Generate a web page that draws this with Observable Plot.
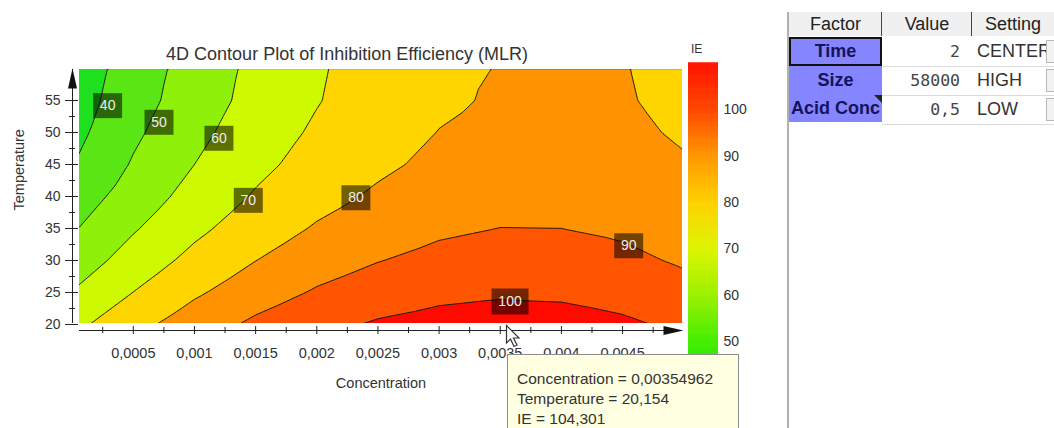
<!DOCTYPE html>
<html>
<head>
<meta charset="utf-8">
<script src="https://cdn.jsdelivr.net/npm/d3@7"></script>
<script src="https://cdn.jsdelivr.net/npm/@observablehq/plot@0.6"></script>
<style>
  html, body { margin:0; padding:0; background:#fff; }
  body { position:relative; width:1054px; height:428px; overflow:hidden; font-family:"Liberation Sans", Arial, sans-serif; color:#333; }
  .abs { position:absolute; }
  #title { left:0; top:45px; width:694px; text-align:center; font-size:18px; line-height:18px; color:#333; white-space:nowrap; }
  #ie { left:691px; top:43px; font-size:12px; line-height:12px; color:#333; }
  #chart { left:0; top:0; }
  #bar { left:688px; top:63px; }
  #sep { left:787px; top:12px; width:2px; height:420px; background:#b0b0b0; }
  .hdr { background:#f0f0f0; height:24px; top:12px; font-size:18px; line-height:24px; text-align:center; color:#222; box-sizing:border-box; }
  .vline { background:#444; width:1px; top:12px; height:24px; }
  .fac { background:#8585ff; color:#14145a; font-weight:bold; font-size:18px; text-align:center; overflow:hidden; white-space:nowrap; box-sizing:border-box; }
  .val { font-family:"DejaVu Sans Mono", monospace; font-size:16.5px; color:#444; text-align:right; box-sizing:border-box; padding-right:12px; }
  .set { font-size:18px; color:#333; padding-left:5px; box-sizing:border-box; white-space:nowrap; }
  .rowline { background:#dcdcdc; height:1px; }
  .drop { background:#f2f2f2; border:1px solid #b8b8b8; box-sizing:border-box; }
  #tip { left:507px; top:354px; width:232px; height:90px; background:#ffffe1; border:1px solid #8c8c8c; box-sizing:border-box; padding:14px 0 0 9px; font-size:15.5px; line-height:20px; color:#333; white-space:nowrap; }
</style>
</head>
<body>
<div id="chart" class="abs"></div>
<div id="bar" class="abs"></div>
<div id="title" class="abs"></div>
<div id="ie" class="abs"></div>
<div id="sep" class="abs"></div>
<div id="table"></div>
<div id="tip" class="abs"></div>
<svg class="abs" style="left:505px;top:324px" width="18" height="26" viewBox="0 0 18 26"><path d="M1.5 1.5 L1.5 19 L5.5 15 L9 22.5 L12 21 L8.5 14 L14 14 Z" fill="#fff" stroke="#333" stroke-width="1.2"/></svg>
<script>
// ---------- data ----------
const chartTitle = "4D Contour Plot of Inhibition Efficiency (MLR)";
const xLabel = "Concentration";
const yLabel = "Temperature";
const colorLabel = "IE";

// sample grid: concentration (columns) x temperature (rows)
const concentration = [0.00005, 0.0005, 0.001, 0.0015, 0.002, 0.0025, 0.003, 0.0035, 0.004, 0.0045, 0.005];
const temperature = [20, 25, 30, 35, 40, 45, 50, 55, 60];
const ieAt20 = [68.2, 76.9, 85.1, 91.9, 97.2, 101.1, 103.4, 104.3, 103.7, 101.6, 98.1];
const ieAt25 = [61.3, 70.1, 78.6, 85.5, 91.0, 95.0, 97.6, 98.8, 98.4, 96.5, 93.1];
const ieAt30 = [55.3, 64.2, 72.8, 79.9, 85.6, 89.7, 92.7, 94.1, 93.9, 92.1, 88.9];
const ieAt35 = [50.0, 59.1, 67.8, 75.1, 80.9, 85.2, 88.4, 90.1, 90.0, 88.5, 85.4];
const ieAt40 = [45.3, 54.6, 63.5, 70.9, 76.9, 81.4, 84.9, 86.9, 87.0, 85.6, 82.7];
const ieAt45 = [40.8, 50.9, 60.0, 67.6, 73.7, 78.3, 82.1, 84.4, 84.6, 83.4, 80.7];
const ieAt50 = [38.0, 48.2, 57.4, 65.2, 71.4, 76.3, 80.2, 82.3, 82.7, 81.6, 79.1];
const ieAt55 = [36.1, 45.8, 55.2, 63.1, 69.5, 75.0, 78.6, 81.0, 81.6, 80.6, 78.2];
const ieAt60 = [34.8, 44.6, 54.2, 62.3, 68.9, 74.5, 78.2, 80.3, 81.0, 80.3, 78.0];

const contourLevels = [40, 50, 60, 70, 80, 90, 100];
const bandColors = ["#1ee01e", "#5ae614", "#8ff00a", "#cdfa00", "#ffd500", "#ff9200", "#ff5500", "#ff0a00"];

const labelText = ["40", "50", "60", "70", "80", "90", "100"];
const labelConc = [0.00029, 0.00071, 0.0012, 0.00144, 0.00232, 0.00455, 0.00358];
const labelTemp = [54.2, 51.6, 49.1, 39.4, 39.8, 32.3, 23.6];

const xTicks = [0.0005, 0.001, 0.0015, 0.002, 0.0025, 0.003, 0.0035, 0.004, 0.0045];
const xMinorTicks = [0.00025, 0.00075, 0.00125, 0.00175, 0.00225, 0.00275, 0.00325, 0.00375, 0.00425, 0.00475];
const yTicks = [20, 25, 30, 35, 40, 45, 50, 55];
const yMinorTicks = [22.5, 27.5, 32.5, 37.5, 42.5, 47.5, 52.5, 57.5];

const barTicks = [40, 50, 60, 70, 80, 90, 100];
const barStops = [40, 50, 60, 70, 80, 90, 100, 110];
const barColors = ["#12e010", "#44ee00", "#9af000", "#dcf500", "#ffd200", "#ff9800", "#ff4800", "#ff1400"];

const tableHeader = ["Factor", "Value", "Setting"];
const factorNames = ["Time", "Size", "Acid Conc"];
const factorValues = ["2", "58000", "0,5"];
const factorSettings = ["CENTER", "HIGH", "LOW"];
const tooltipLines = ["Concentration = 0,00354962", "Temperature = 20,154", "IE = 104,301"];

// ---------- main contour chart ----------
const xDomain = [0.00006, 0.00499];
const yDomain = [20.15, 59.85];
const ieRows = [ieAt20, ieAt25, ieAt30, ieAt35, ieAt40, ieAt45, ieAt50, ieAt55, ieAt60];
const grid = temperature.flatMap((t, j) => concentration.map((c, i) => ({c, t, v: ieRows[j][i]})));
const labels = labelText.map((text, i) => ({text, c: labelConc[i], t: labelTemp[i]}));
const fmt = d => String(d).replace(".", ",");

const arrowUp = {draw(ctx) { ctx.moveTo(0, 0); ctx.lineTo(4.5, 20); ctx.lineTo(-4.5, 20); ctx.closePath(); }};
const arrowRight = {draw(ctx) { ctx.moveTo(0, 0); ctx.lineTo(-20, -4.5); ctx.lineTo(-20, 4.5); ctx.closePath(); }};
const box2 = {draw(ctx) { ctx.rect(-14.5, -12.5, 29, 25); }};
const box3 = {draw(ctx) { ctx.rect(-18.5, -13, 37, 26); }};

const extent = {x1: concentration[0], x2: concentration[concentration.length - 1], y1: temperature[0], y2: temperature[temperature.length - 1]};

const chart = Plot.plot({
  width: 700, height: 428,
  marginLeft: 79, marginRight: 18, marginTop: 69, marginBottom: 105,
  style: {fontFamily: "Liberation Sans, Arial, sans-serif", fontSize: "14px", color: "#333", background: "transparent", overflow: "visible"},
  x: {domain: xDomain},
  y: {domain: yDomain},
  color: {type: "threshold", domain: contourLevels, range: bandColors},
  marks: [
    Plot.contour(grid, {x: "c", y: "t", fill: "v", thresholds: [0, ...contourLevels], interpolate: "barycentric", ...extent, clip: "frame"}),
    Plot.contour(grid, {x: "c", y: "t", value: "v", thresholds: contourLevels, interpolate: "barycentric", ...extent, fill: "none", stroke: "#1a1a1a", strokeWidth: 1, clip: "frame"}),
    Plot.dot(labels.filter(d => d.text.length < 3), {x: "c", y: "t", symbol: box2, fill: "#000", fillOpacity: 0.55, stroke: "none"}),
    Plot.dot(labels.filter(d => d.text.length >= 3), {x: "c", y: "t", symbol: box3, fill: "#000", fillOpacity: 0.55, stroke: "none"}),
    Plot.text(labels, {x: "c", y: "t", text: "text", fill: "#eeeeee", fontSize: 14}),
    Plot.ruleY([yDomain[0]], {dy: 7, stroke: "#222"}),
    Plot.ruleX([xDomain[0]], {dx: -7, stroke: "#222"}),
    Plot.axisX(xTicks, {anchor: "bottom", dy: 3, tickSize: 8, tickPadding: 13, tickFormat: fmt, fontSize: 14.5, stroke: "#222", label: xLabel, labelAnchor: "center", labelOffset: 64, labelArrow: false}),
    Plot.axisX(xMinorTicks, {anchor: "bottom", dy: 4, tickSize: 6, tickFormat: () => "", stroke: "#222", label: null}),
    Plot.axisY(yTicks, {anchor: "left", dx: -1, tickSize: 13, tickPadding: 5, fontSize: 14, stroke: "#222", label: null}),
    Plot.axisY(yMinorTicks, {anchor: "left", dx: -4, tickSize: 6, tickFormat: () => "", stroke: "#222", label: null}),
    Plot.text([yLabel], {text: d => d, frameAnchor: "left", rotate: -90, dx: -60, dy: 14, fontSize: 14.5, fill: "#333"}),
    Plot.dot([{c: xDomain[0], t: yDomain[1]}], {x: "c", y: "t", dx: -7, dy: -1, symbol: arrowUp, fill: "#111", stroke: "none"}),
    Plot.dot([{c: xDomain[1], t: yDomain[0]}], {x: "c", y: "t", dx: 1, dy: 7, symbol: arrowRight, fill: "#111", stroke: "none"})
  ]
});
document.getElementById("chart").append(chart);

// ---------- colour bar ----------
const barDomain = [31.3, 110];
const ramp = d3.range(barDomain[0], barDomain[1] + 0.2, 0.2);
const bar = Plot.plot({
  width: 70, height: 365,
  marginLeft: 0, marginRight: 40, marginTop: 0, marginBottom: 0,
  style: {fontFamily: "Liberation Sans, Arial, sans-serif", fontSize: "14px", color: "#333", background: "transparent", overflow: "visible"},
  y: {domain: barDomain},
  color: {type: "linear", domain: barStops, range: barColors, clamp: true},
  marks: [
    Plot.tickY(ramp, {y: d => d, stroke: d => d, strokeWidth: 1.6}),
    Plot.axisY(barTicks, {anchor: "right", tickSize: 0, tickPadding: 5, fontSize: 14, label: null})
  ]
});
document.getElementById("bar").append(bar);

// ---------- texts ----------
document.getElementById("title").textContent = chartTitle;
document.getElementById("ie").textContent = colorLabel;
document.getElementById("tip").innerHTML = tooltipLines.map(s => `<div>${s}</div>`).join("");

// ---------- factor table ----------
const table = document.getElementById("table");
const colX = [789, 882, 972, 1054];
const rowTop = [37, 66, 95];
const rowH = 29;
function el(cls, style, text) {
  const d = document.createElement("div");
  d.className = "abs " + cls;
  Object.assign(d.style, style);
  if (text != null) d.textContent = text;
  table.append(d);
  return d;
}
tableHeader.forEach((h, i) => el("hdr", {left: colX[i] + "px", width: (colX[i + 1] - colX[i]) + "px"}, h));
el("vline", {left: "881px"});
el("vline", {left: "971px"});
factorNames.forEach((name, i) => {
  const top = rowTop[i];
  const h = i === 2 ? 27 : rowH;
  el("fac", {left: "789px", top: top + "px", width: "93px", height: h + "px",
    border: i === 0 ? "2px solid #111" : "none", lineHeight: (i === 0 ? h - 4 : h) + "px"}, name);
  el("val", {left: "882px", top: top + "px", width: "90px", height: rowH + "px", lineHeight: rowH + "px"}, factorValues[i]);
  el("set", {left: "972px", top: top + "px", width: "82px", height: rowH + "px", lineHeight: rowH + "px"}, factorSettings[i]);
  el("drop", {left: "1046px", top: (top + 3) + "px", width: "12px", height: (rowH - 6) + "px"});
  el("rowline", {left: "882px", top: (top + rowH) + "px", width: "172px"});
});
// comment marker on the last factor cell
const mark = document.createElementNS("http://www.w3.org/2000/svg", "svg");
mark.setAttribute("width", "8"); mark.setAttribute("height", "8");
mark.setAttribute("class", "abs"); mark.style.left = "874px"; mark.style.top = "95px";
mark.innerHTML = '<path d="M0 0 L8 0 L8 8 Z" fill="#222"/>';
table.append(mark);
</script>
</body>
</html>
